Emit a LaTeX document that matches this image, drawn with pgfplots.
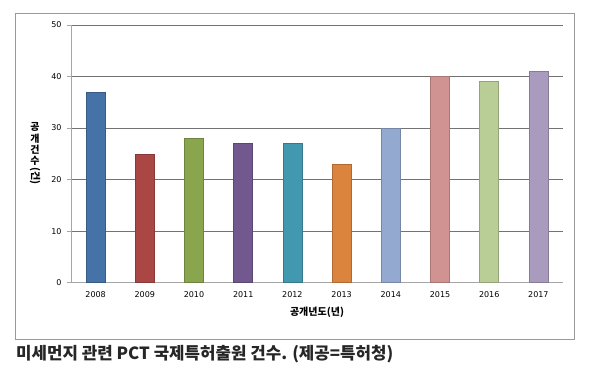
\documentclass[border=0pt]{standalone}
\usepackage{pgfplots}
\pgfplotsset{compat=1.18}
\usepackage{graphicx}
\usepackage{fontspec}
\setmainfont{DejaVu Sans}
\newfontfamily\kr{Noto Sans CJK KR}
\definecolor{c1}{HTML}{4572A7}
\definecolor{c2}{HTML}{AA4643}
\definecolor{c3}{HTML}{89A54E}
\definecolor{c4}{HTML}{71588F}
\definecolor{c5}{HTML}{4198AF}
\definecolor{c6}{HTML}{DB843D}
\definecolor{c7}{HTML}{93A9CF}
\definecolor{c8}{HTML}{D19392}
\definecolor{c9}{HTML}{B9CD96}
\definecolor{c10}{HTML}{A99BBD}
\begin{document}
\begin{tikzpicture}
\useasboundingbox (0,0) rectangle (591pt,366pt);
\fill[white] (0,0) rectangle (591pt,366pt);
\draw[gray!80, line width=0.8pt] (15pt,27pt) rectangle (574pt,353pt);
\begin{axis}[
  at={(71pt,83.3pt)}, anchor=south west,
  scale only axis, width=492pt, height=257.7pt,
  xmin=-0.5, xmax=9.5, ymin=0, ymax=50,
  ytick={0,10,...,50},
  xtick={0,...,9},
  xticklabels={2008,2009,2010,2011,2012,2013,2014,2015,2016,2017},
  axis x line*=bottom, axis y line*=left,
  axis line style={gray!70, line width=0.8pt},
  x axis line style={-}, y axis line style={-},
  ymajorgrids, grid style={black!55, line width=0.6pt},
  tick style={gray!70, line width=0.8pt},
  xtick style={draw=none},
  ytick align=outside, major tick length=4pt,
  tick label style={font=\fontsize{8}{9}\selectfont, black},
  /pgf/number format/assume math mode=true,
  xticklabel style={yshift=-5pt},
  yticklabel style={xshift=-2pt},
  xlabel={\kr\bfseries 공개년도(년)},
  ylabel={\kr\bfseries\shortstack{공\\[-1pt]개\\[-1pt]건\\[-1pt]수\\[-1pt]\rotatebox{-90}{(건)}}},
  xlabel style={font=\fontsize{10}{11}\selectfont, yshift=-3pt},
  ylabel style={font=\fontsize{10}{11}\selectfont, rotate=-90, anchor=center, at={(axis description cs:-0.073,0.5)}},
  clip=false,
]
\pgfplotsforeachungrouped \i/\v in {0/37,1/25,2/28,3/27,4/27,5/23,6/30,7/40,8/39,9/41}{
  \pgfmathtruncatemacro{\ci}{\i+1}
  \edef\temp{\noexpand\addplot[ybar, bar width=19pt, fill=c\ci, draw=c\ci!80!black, line width=0.5pt] coordinates {(\i,\v)};}
  \temp
}
\end{axis}
\node[anchor=west, font=\kr\bfseries\fontsize{16.8}{18}\selectfont, text=black!85, inner sep=0pt] at (16pt,12pt) {미세먼지 관련 PCT 국제특허출원 건수. (제공=특허청)};
\end{tikzpicture}
\end{document}
